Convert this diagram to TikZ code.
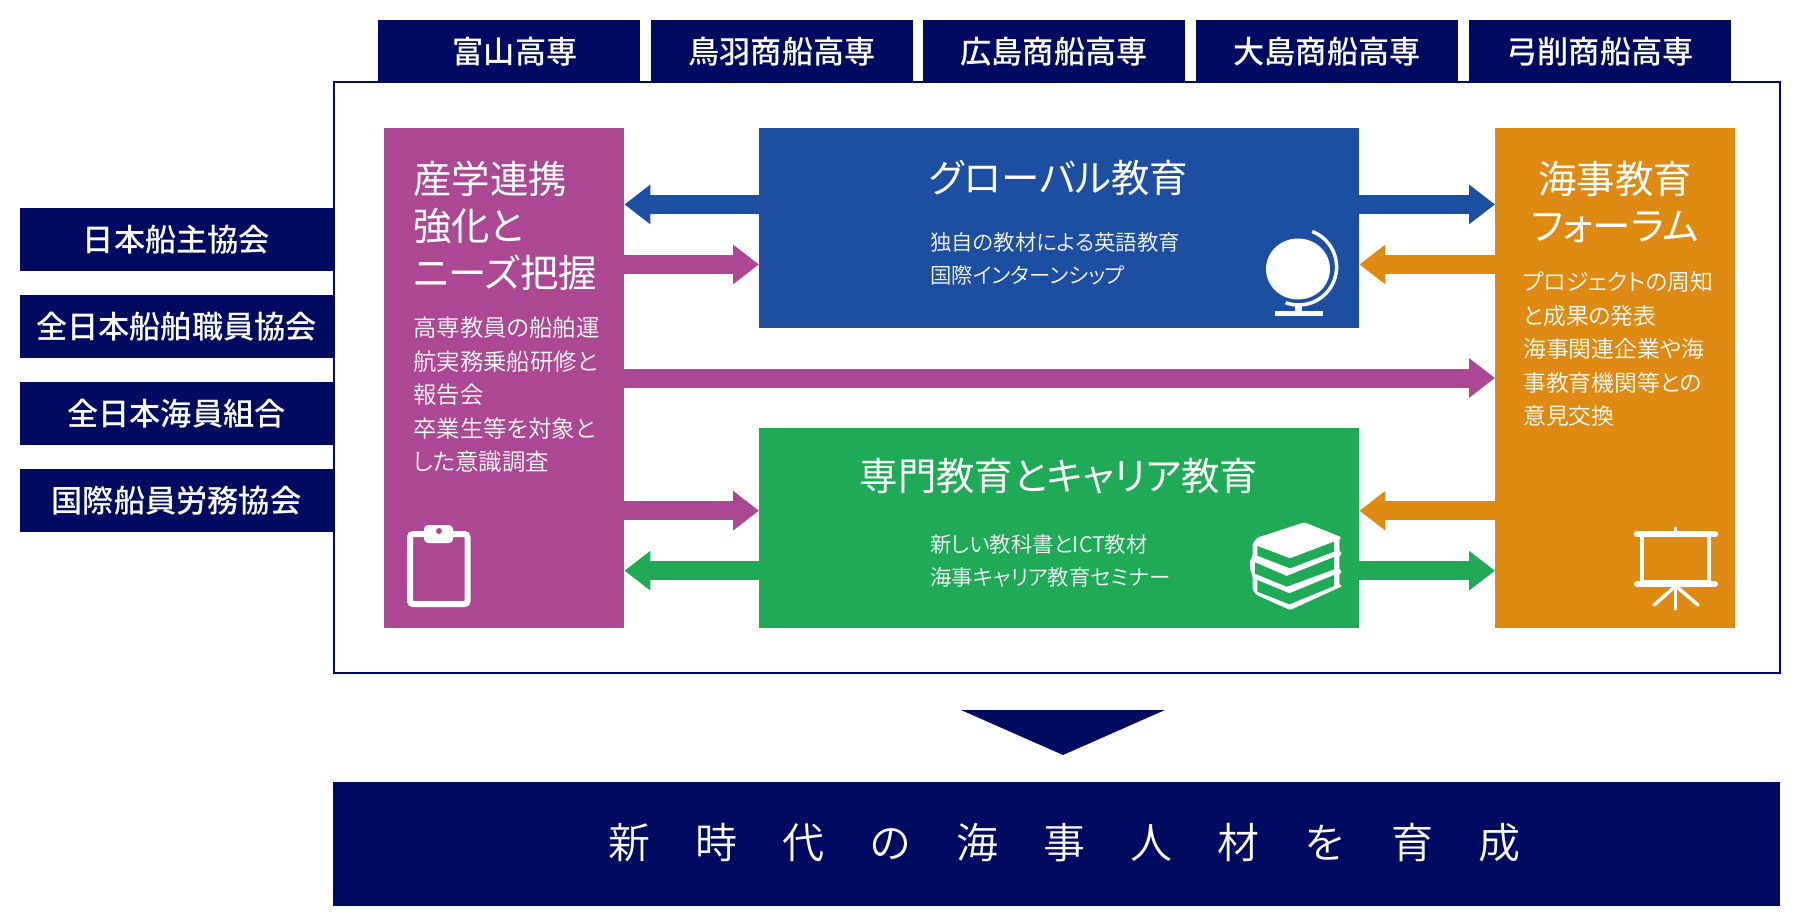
\documentclass[tikz,border=0pt]{standalone}
\usepackage{fontspec}
\usepackage{tikz}
\usetikzlibrary{arrows.meta}
\newfontfamily\jpfont[RawFeature=+palt]{Noto Sans CJK JP}
\newfontfamily\jpmedium[RawFeature=+palt]{Noto Sans CJK JP Medium}
\newfontfamily\jplight[RawFeature=+palt]{Noto Sans CJK JP DemiLight}
\newfontfamily\jpwide[LetterSpace=107]{Noto Sans CJK JP DemiLight}
\definecolor{navyc}{HTML}{000A60}
\definecolor{purplec}{HTML}{AC4794}
\definecolor{bluec}{HTML}{1C4FA1}
\definecolor{greenc}{HTML}{1FAB56}
\definecolor{orangec}{HTML}{DE8A12}
\tikzset{
  navybox/.style={fill=navyc,text=white,inner sep=0pt,font=\jpmedium\fontsize{31.2}{31.2}\selectfont},
  areabox/.style={inner sep=0pt,anchor=north west},
  headtext/.style={text=white,inner sep=0pt,align=left,font=\jpfont\fontsize{38.4}{47}\selectfont},
  bodytext/.style={text=white,inner sep=0pt,align=left,anchor=north west,font=\jplight\fontsize{21.4}{33.4}\selectfont},
  linkarrow/.style={line width=19pt,-{Triangle[length=26pt,width=38pt]}},
}
\begin{document}
\begin{tikzpicture}[x=1pt,y=-1pt]
\useasboundingbox (0,0) rectangle (1800,920);

\node[draw=navyc,line width=2pt,minimum width=1446pt,minimum height=591pt] (frame) at (1056.5,377.5) {};

% schools along the top
\foreach \name/\label/\xpos in {toyama/\hspace*{12pt}富山高専/509,toba/鳥羽商船高専/782,hiroshima/広島商船高専/1054,oshima/大島商船高専/1327,yuge/弓削商船高専/1600}
  \node[navybox,minimum width=262pt,minimum height=63pt] (\name) at (\xpos,51.5) {\label};

% associations on the left
\foreach \name/\label/\ypos in {owners/日本船主協会/239.5,officers/全日本船舶職員協会/326.5,seamen/全日本海員組合/413.5,labour/国際船員労務協会/500.5}
  \node[navybox,minimum width=313pt,minimum height=63pt] (\name) at (176.5,\ypos) {\label};

% the four areas
\node[areabox,fill=purplec,minimum width=240.5pt,minimum height=500.5pt] (industry) at (383.5,127.5) {};
\node[areabox,fill=bluec,minimum width=600pt,minimum height=200.5pt] (global) at (759,127.5) {};
\node[areabox,fill=greenc,minimum width=600pt,minimum height=200pt] (career) at (759,428) {};
\node[areabox,fill=orangec,minimum width=240pt,minimum height=500.5pt] (forum) at (1495,127.5) {};

\node[headtext,anchor=north west] (industryhead) at (413,161) {産学連携\\強化と\\ニーズ把握};
\node[bodytext,font=\jplight\fontsize{23.4}{33.4}\selectfont] (industrybody) at (413,317) {高専教員の船舶運\\航実務乗船研修と\\報告会\\卒業生等を対象と\\した意識調査};
\node[headtext] (globalhead) at (1059,178) {グローバル教育};
\node[bodytext] (globalbody) at (930,232) {独自の教材による英語教育\\国際インターンシップ};
\node[headtext] (careerhead) at (1059,476) {専門教育とキャリア教育};
\node[bodytext] (careerbody) at (930,534) {新しい教科書とICT教材\\海事キャリア教育セミナー};
\node[headtext,align=center,anchor=north] (forumhead) at (1615,161) {海事教育\\フォーラム};
\node[bodytext,font=\jplight\fontsize{22.8}{33.4}\selectfont] (forumbody) at (1523,271.5) {プロジェクトの周知\\と成果の発表\\海事関連企業や海\\事教育機関等との\\意見交換};

% arrows between the areas
\draw[linkarrow,bluec] ([yshift=23.5pt]global.west) -- ([yshift=23.5pt]global.west -| industry.east);
\draw[linkarrow,bluec] ([yshift=23.5pt]global.east) -- ([yshift=23.5pt]global.east -| forum.west);
\draw[linkarrow,purplec] ([yshift=-36.5pt]global.west -| industry.east) -- ([yshift=-36.5pt]global.west);
\draw[linkarrow,orangec] ([yshift=-36.5pt]global.east -| forum.west) -- ([yshift=-36.5pt]global.east);
\draw[linkarrow,purplec] (industry.east |- 0,378) -- (forum.west |- 0,378);
\draw[linkarrow,purplec] ([yshift=17.5pt]career.west -| industry.east) -- ([yshift=17.5pt]career.west);
\draw[linkarrow,orangec] ([yshift=17.5pt]career.east -| forum.west) -- ([yshift=17.5pt]career.east);
\draw[linkarrow,greenc] ([yshift=-42.5pt]career.west) -- ([yshift=-42.5pt]career.west -| industry.east);
\draw[linkarrow,greenc] ([yshift=-42.5pt]career.east) -- ([yshift=-42.5pt]career.east -| forum.west);

% clipboard icon
\draw[white,line width=6pt,rounded corners=3pt] (410,534) rectangle (467.5,604);
\fill[white,rounded corners=4pt] (424,543) -- (424,525) -- (453,525) -- (453,543) -- cycle;
\fill[purplec] (439,531) circle[radius=3];

% globe icon
\fill[white] (1298,269) ellipse[x radius=32,y radius=30.5];
\draw[white,line width=3.5pt] (1312.2,231.5) arc[start angle=-69,end angle=110,radius=38];
\fill[white] (1295,304) rectangle (1301.7,311);
\fill[white] (1275,310.7) rectangle (1322.7,316.3);

% books icon
\begin{scope}[shift={(1240,515)},x=0.3333pt,y=-0.3333pt]
\fill[white,rounded corners=1.5pt] (193,22) -- (305,67) -- (298,72) -- (298,110) -- (308,115) -- (298,122) -- (298,165) -- (308,170) -- (298,175) -- (298,210) -- (308,213) -- (150,285) -- (50,240) -- (38,225) -- (38,185) -- (30,160) -- (30,135) -- (38,125) -- (38,85) -- (52,68) -- cycle;
\fill[greenc] (52,93) -- (150,130) -- (282,80) -- (282,110) -- (150,160) -- (52,122) -- cycle;
\fill[greenc] (45,142) -- (140,183) -- (282,126) -- (282,163) -- (140,215) -- (45,176) -- cycle;
\fill[greenc] (52,195) -- (148,235) -- (282,180) -- (282,213) -- (148,268) -- (52,230) -- cycle;
\end{scope}

% easel icon
\draw[white,line width=4.5pt] (1642,535) rectangle (1709,582);
\draw[white,line width=6.5pt,line cap=round] (1637,534) -- (1715,534);
\draw[white,line width=6pt,line cap=round] (1637,584) -- (1715,584);
\draw[white,line width=3.5pt,line cap=round] (1675.7,528) -- (1675.7,534);
\draw[white,line width=3.5pt,line cap=round] (1675.7,584) -- (1675.7,609);
\draw[white,line width=3.5pt,line cap=round] (1675.7,586) -- (1654,605);
\draw[white,line width=3.5pt,line cap=round] (1675.7,586) -- (1698,605);

% arrow down to the goal
\node[fill=navyc,minimum width=1447pt,minimum height=124pt,inner sep=0pt] (goal) at (1056.5,843.5) {};
\node[text=white,inner sep=0pt,font=\jpwide\fontsize{42}{42}\selectfont] (goaltext) at (1064.5,843) {新時代の海事人材を育成};
\coordinate (tipleft) at (961,710);
\coordinate (tipright) at (1165,710);
\fill[navyc] (tipleft) -- (tipright) -- (1063,755) -- cycle;
\end{tikzpicture}
\end{document}
